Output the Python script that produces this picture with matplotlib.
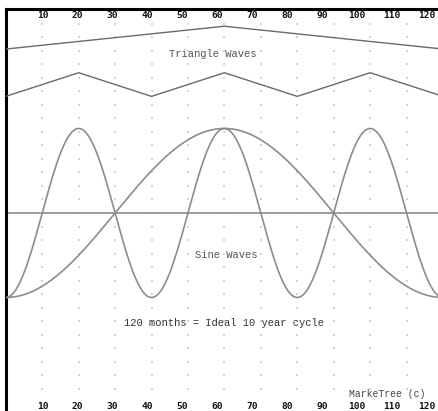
import numpy as np
import matplotlib
matplotlib.use('Agg')
from matplotlib import pyplot as plt

# Data
tick_values = [10, 20, 30, 40, 50, 60, 70, 80, 90, 100, 110, 120]

# triangle wave vertices (months, level)
tri_long_x = [0, 60, 120]
tri_long_y = [1.94, 2.21, 1.94]
tri_short_x = [0, 20, 40, 60, 80, 100, 120]
tri_short_y = [1.38, 1.66, 1.38, 1.66, 1.38, 1.66, 1.38]

# sine waves: period in months, phase = start at trough
sine_periods = [120, 40]
sine_amplitude = 1.0
baseline = 0.0

# Figure
W, H = 438, 411
fig = plt.figure(figsize=(W / 100, H / 100), dpi=100)
left_px, top_px = 5.8, 9.5
ax = fig.add_axes([left_px / W, 0, (443 - left_px) / W, (H - top_px) / H])
ax.set_xlim(0, 120)
ax.set_ylim(-2.343, 2.408)

for s in ['right', 'bottom']:
    ax.spines[s].set_visible(False)
for s in ['left', 'top']:
    ax.spines[s].set_linewidth(2.2)
    ax.spines[s].set_color('black')
ax.set_xticks([])
ax.set_yticks([])

# dot grid
gx = np.arange(10, 120, 10)
gy = np.arange(-13, 15) * 0.16
GX, GY = np.meshgrid(gx, gy)
ax.scatter(GX.ravel(), GY.ravel(), s=0.9, c='#d4d4d4', marker='s', linewidths=0, zorder=1)

# triangle waves
ax.plot(tri_long_x, tri_long_y, color='#6a6a6a', lw=1.0, zorder=3)
ax.plot(tri_short_x, tri_short_y, color='#6a6a6a', lw=1.0, zorder=3)

# sine waves
t = np.linspace(0, 120, 600)
for p in sine_periods:
    ax.plot(t, -sine_amplitude * np.cos(2 * np.pi * t / p), color='#8c8c8c', lw=1.2, zorder=3)
ax.axhline(baseline, color='#8c8c8c', lw=1.2, zorder=2)

# labels
mono = 'Liberation Mono'
ax.text(56.9, 1.88, 'Triangle Waves', family=mono, fontsize=7.6, color='#555555',
        ha='center', va='center')
ax.text(60.5, -0.50, 'Sine Waves', family=mono, fontsize=7.6, color='#555555',
        ha='center', va='center')
ax.text(60.0, -1.30, '120 months = Ideal 10 year cycle', family=mono, fontsize=7.6,
        color='#333333', ha='center', va='center')
ax.text(104.6, -2.14, 'MarkeTree (c)', family=mono, fontsize=7.0, color='#444444',
        ha='center', va='center')

# tick labels (drawn a little tighter than the grid, as in the original)
for v in tick_values:
    px = 42.7 + (v - 10) * 3.494
    xf = px / W
    fig.text(xf, 1 - 15 / H, str(v), family='DejaVu Sans Mono', fontweight='bold',
             fontsize=6.8, ha='center', va='center', color='#111111')
    fig.text(xf, 1 - 406 / H, str(v), family='DejaVu Sans Mono', fontweight='bold',
             fontsize=6.8, ha='center', va='center', color='#111111')

fig.savefig('out.png', dpi=100)
